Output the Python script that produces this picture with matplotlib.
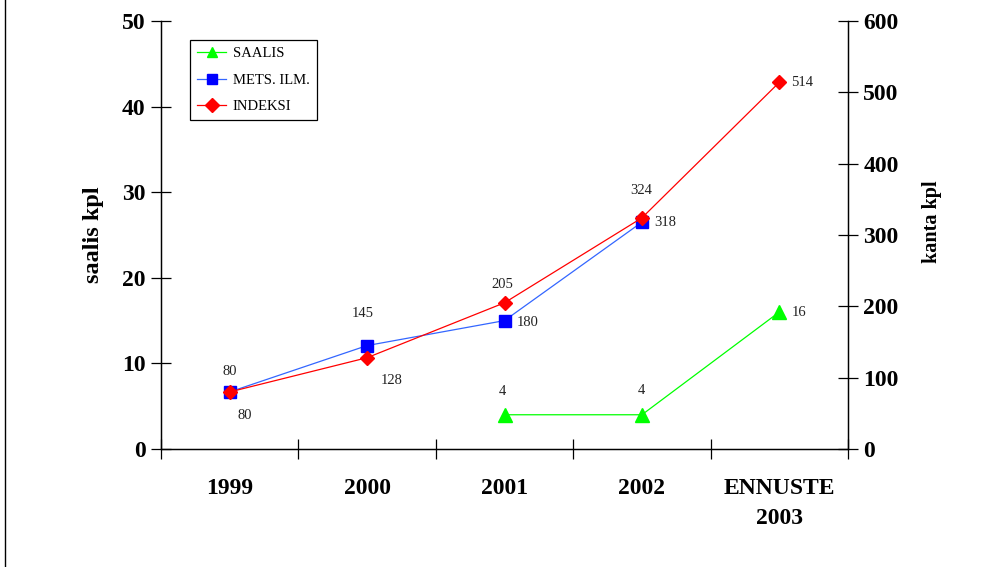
import matplotlib.pyplot as plt
from matplotlib.lines import Line2D
import numpy as np

plt.rcParams['font.family'] = ['Liberation Serif', 'DejaVu Serif']

categories = ['1999', '2000', '2001', '2002', 'ENNUSTE\n2003']
saalis_x = [2, 3, 4]
saalis = [4, 4, 16]
mets_x = [0, 1, 2, 3]
mets = [80, 145, 180, 318]
indeksi_x = [0, 1, 2, 3, 4]
indeksi = [80, 128, 205, 324, 514]

# label offsets in pixels for each point
saalis_off = [(-2, 23), (-1, 24), (20, 0)]
mets_off = [(0, 20), (-4, 32), (23, -2), (23, 0)]
indeksi_off = [(15, -24), (25, -23), (-2, 18), (-1, 27), (23, 0)]

fig = plt.figure(figsize=(9.9, 5.67), dpi=100)
ax = fig.add_axes([161/990, 1-449/567, 687/990, 428/567])
ax2 = ax.twinx()

l1, = ax.plot(saalis_x, saalis, color='#00ff00', lw=0.9, marker='^', ms=10, label='SAALIS')
l2, = ax2.plot(mets_x, mets, color='#3366ff', lw=0.9, marker='s', ms=8.5,
               mfc='#0000ff', mec='#0000ff', label='METS. ILM.')
l3, = ax2.plot(indeksi_x, indeksi, color='#ff0000', lw=0.9, marker='D', ms=7.5, label='INDEKSI')

def labels(a, xs, ys, offs):
    for x, y, o in zip(xs, ys, offs):
        a.annotate(str(y), (x, y), xytext=o, textcoords='offset pixels',
                   ha='center', va='center', fontsize=10.5, color='#222222')

labels(ax, saalis_x, saalis, saalis_off)
labels(ax2, mets_x, mets, mets_off)
labels(ax2, indeksi_x, indeksi, indeksi_off)

ax.set_xlim(-0.5, 4.5)
ax.set_ylim(0, 50)
ax2.set_ylim(0, 600)
ax.set_yticks(np.arange(0, 51, 10))
ax2.set_yticks(np.arange(0, 601, 100))
ax.set_xticks(range(len(categories)))
ax.set_xticklabels(categories, fontsize=17, fontweight='bold', linespacing=1.55)
ax.set_xticks(np.arange(-0.5, 5, 1), minor=True)
ax.tick_params(axis='x', which='major', length=0, pad=21)
ax.tick_params(axis='x', which='minor', direction='inout', length=14, width=0.9)
ax.tick_params(axis='y', direction='inout', length=14, width=0.9, labelsize=17, pad=4)
ax2.tick_params(axis='y', direction='inout', length=14, width=0.9, labelsize=17, pad=4)
for t in ax.get_yticklabels() + ax2.get_yticklabels():
    t.set_fontweight('bold')

for a in (ax, ax2):
    a.spines['top'].set_visible(False)
    for s in ('left', 'right', 'bottom'):
        a.spines[s].set_linewidth(0.9)

ax.set_ylabel('saalis kpl', fontsize=17.5, fontweight='bold')
ax.yaxis.set_label_coords(-0.083, 0.5)
ax2.set_ylabel('kanta kpl', fontsize=14.5, fontweight='bold')
ax2.yaxis.set_label_coords(1.108, 0.53)

leg = ax2.legend(handles=[l1, l2, l3], loc='upper left', bbox_to_anchor=(0.042, 0.956),
                 borderaxespad=0, fancybox=False, framealpha=1, edgecolor='black',
                 fontsize=10.5, handlelength=2.0, handletextpad=0.45, labelspacing=0.9,
                 borderpad=0.5)
leg.get_frame().set_linewidth(0.9)
for h in leg.legend_handles:
    h.set_markersize(7)

fig.add_artist(Line2D([0.005, 0.005], [0, 1], transform=fig.transFigure, color='black', lw=1))

fig.savefig('out.png', dpi=100)
